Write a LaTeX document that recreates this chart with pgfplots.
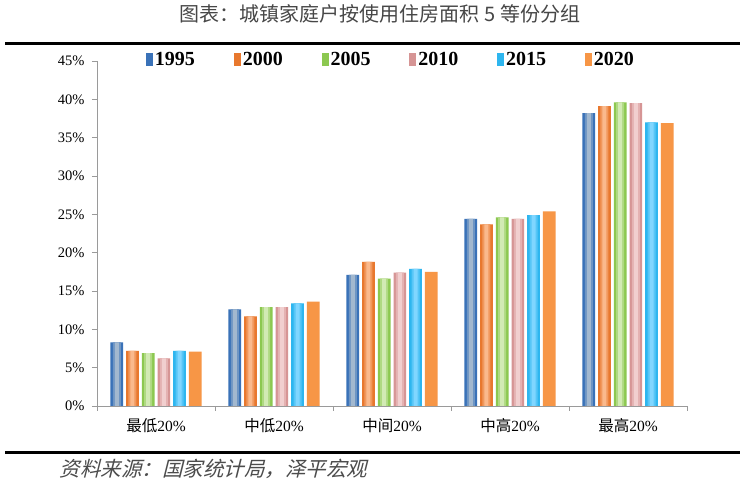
\documentclass[border=0pt]{standalone}
\usepackage{fontspec}
\setmainfont{Liberation Serif}
\newfontfamily\cjk{Noto Sans CJK SC}
\newfontfamily\cjkit[FakeSlant=0.25]{Noto Sans CJK SC}
\usepackage{pgfplots}
\pgfplotsset{compat=1.18}
\definecolor{axisgrey}{HTML}{9A9A9A}
\definecolor{aA}{HTML}{3A72B8}\definecolor{aB}{HTML}{A2B8CF}
\definecolor{bA}{HTML}{E8782E}\definecolor{bB}{HTML}{FAB98C}
\definecolor{cA}{HTML}{8CC850}\definecolor{cB}{HTML}{D2EAB4}
\definecolor{dA}{HTML}{D69595}\definecolor{dB}{HTML}{F1CFCF}
\definecolor{eA}{HTML}{2EB6EF}\definecolor{eB}{HTML}{80D6FF}
\definecolor{fA}{HTML}{F79646}
\pgfplotstableread{
x y1995 y2000 y2005 y2010 y2015 y2020
0 8.3 7.2 6.9 6.2 7.2 7.1
1 12.6 11.7 12.9 12.9 13.4 13.6
2 17.1 18.8 16.6 17.4 17.9 17.5
3 24.4 23.7 24.6 24.4 24.9 25.4
4 38.2 39.1 39.6 39.5 37.0 36.9
}\datatable
\begin{document}
\begin{tikzpicture}[x=1pt,y=1pt]
\useasboundingbox (0,0) rectangle (740,484);
\fill[white] (0,0) rectangle (740,484);
\node[font=\cjk\fontsize{20}{24}\selectfont, text=black!72] at (380,470) {图表：城镇家庭户按使用住房面积 5 等份分组};
\draw[line width=3pt] (5,440) -- (740,440);
\draw[line width=3pt] (5,31) -- (740,31);
\node[anchor=west, font=\cjkit\fontsize{20.5}{24}\selectfont, text=black!70] at (56,15) {资料来源：国家统计局，泽平宏观};
\begin{axis}[
  at={(97pt,78pt)}, anchor=south west,
  scale only axis, width=590pt, height=345pt,
  xmin=-0.5, xmax=4.5, ymin=0, ymax=45,
  axis x line*=bottom, axis y line*=left,
  axis line style={draw=axisgrey, line width=0.9pt},
  tick style={draw=axisgrey, line width=0.9pt},
  tick align=outside, major tick length=5pt,
  ytick={0,5,...,45},
  yticklabel={\pgfmathprintnumber{\tick}\%},
  /pgf/number format/assume math mode=true,
  tick label style={font=\fontsize{14.5}{16}\selectfont},
  yticklabel style={xshift=-4pt},
  xtick={-0.5,0.5,...,4.5}, xticklabels={},
  extra x ticks={0,1,2,3,4},
  extra x tick labels={{\cjk 最低}20\%,{\cjk 中低}20\%,{\cjk 中间}20\%,{\cjk 中高}20\%,{\cjk 最高}20\%},
  extra x tick style={major tick length=0pt, tick label style={yshift=-9pt, font=\fontsize{15.5}{18}\selectfont}},
  ybar,
  legend columns=6,
  legend style={at={(0.5,1)}, anchor=center, xshift=-1pt, yshift=1pt, draw=none, fill=none,
    font=\bfseries\fontsize{20}{22}\selectfont,
    /tikz/every even column/.append style={column sep=36.8pt}},
  legend image code/.code={\path[#1] (0pt,-6.5pt) rectangle (7pt,6.5pt);},
]
% 1995
\addplot[draw=none, fill=aA, bar width=12.7pt, bar shift=-39.25pt] table[x=x,y=y1995] {\datatable};
\addlegendentry{1995}
\addplot[forget plot, draw=none, fill=aA!50!aB, bar width=8pt, bar shift=-39.25pt] table[x=x,y=y1995] {\datatable};
\addplot[forget plot, draw=none, fill=aB, bar width=4pt, bar shift=-39.25pt] table[x=x,y=y1995] {\datatable};
% 2000
\addplot[draw=none, fill=bA, bar width=12.7pt, bar shift=-23.55pt] table[x=x,y=y2000] {\datatable};
\addlegendentry{2000}
\addplot[forget plot, draw=none, fill=bA!50!bB, bar width=8pt, bar shift=-23.55pt] table[x=x,y=y2000] {\datatable};
\addplot[forget plot, draw=none, fill=bB, bar width=4pt, bar shift=-23.55pt] table[x=x,y=y2000] {\datatable};
% 2005
\addplot[draw=none, fill=cA, bar width=12.7pt, bar shift=-7.85pt] table[x=x,y=y2005] {\datatable};
\addlegendentry{2005}
\addplot[forget plot, draw=none, fill=cA!50!cB, bar width=8pt, bar shift=-7.85pt] table[x=x,y=y2005] {\datatable};
\addplot[forget plot, draw=none, fill=cB, bar width=4pt, bar shift=-7.85pt] table[x=x,y=y2005] {\datatable};
% 2010
\addplot[draw=none, fill=dA, bar width=12.7pt, bar shift=7.85pt] table[x=x,y=y2010] {\datatable};
\addlegendentry{2010}
\addplot[forget plot, draw=none, fill=dA!50!dB, bar width=8pt, bar shift=7.85pt] table[x=x,y=y2010] {\datatable};
\addplot[forget plot, draw=none, fill=dB, bar width=4pt, bar shift=7.85pt] table[x=x,y=y2010] {\datatable};
% 2015
\addplot[draw=none, fill=eA, bar width=12.7pt, bar shift=23.55pt] table[x=x,y=y2015] {\datatable};
\addlegendentry{2015}
\addplot[forget plot, draw=none, fill=eA!50!eB, bar width=8pt, bar shift=23.55pt] table[x=x,y=y2015] {\datatable};
\addplot[forget plot, draw=none, fill=eB, bar width=4pt, bar shift=23.55pt] table[x=x,y=y2015] {\datatable};
% 2020
\addplot[draw=none, fill=fA, bar width=12.7pt, bar shift=39.25pt] table[x=x,y=y2020] {\datatable};
\addlegendentry{2020}
\end{axis}
\end{tikzpicture}
\end{document}
